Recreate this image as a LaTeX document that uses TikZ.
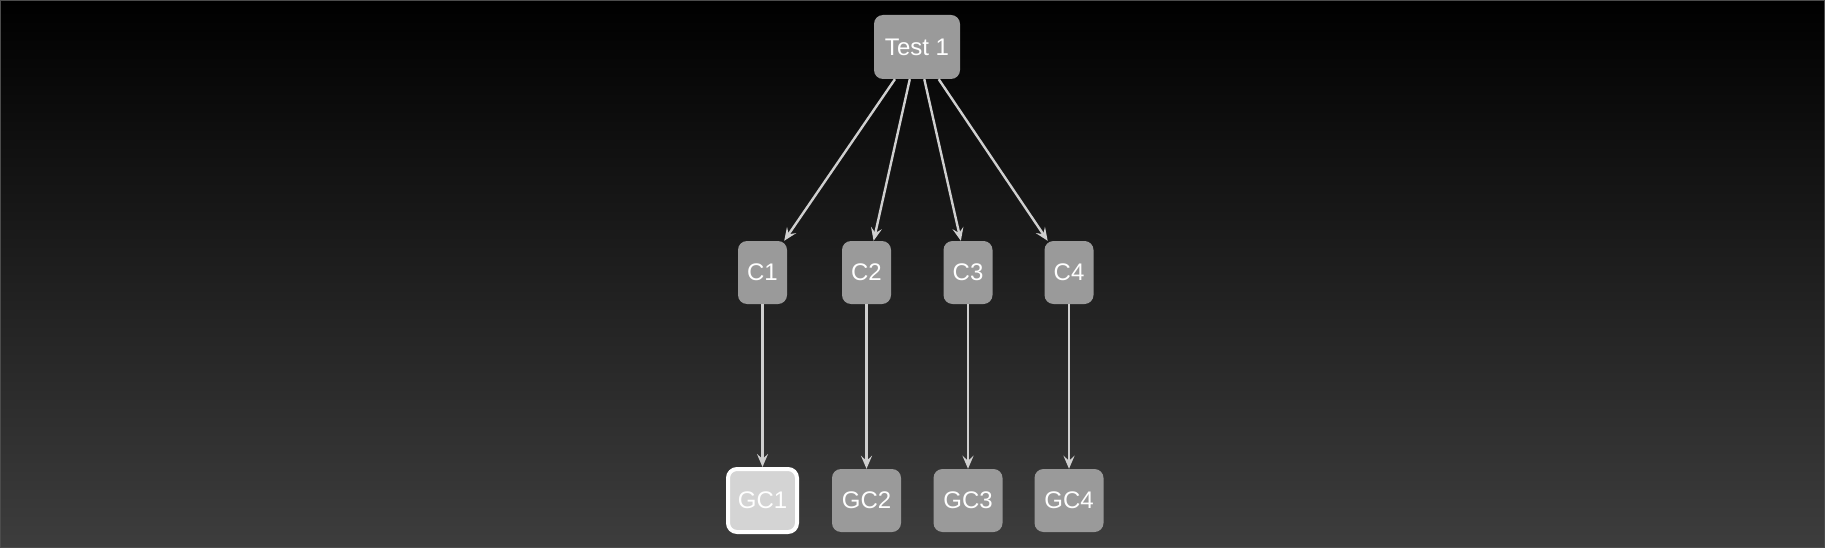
\documentclass[tikz,border=0pt]{standalone}
\usepackage{fontspec}
\setmainfont{Liberation Sans}
\usetikzlibrary{arrows.meta}
\definecolor{nodegray}{HTML}{9A9A9A}
\definecolor{hlgray}{HTML}{D4D4D4}
\definecolor{edgegray}{HTML}{CFCFCF}
\definecolor{bgbottom}{HTML}{3D3D3D}
\tikzset{
  box/.style={draw=none, fill=nodegray, rounded corners=9pt, text=white,
    font=\fontsize{24}{28}\selectfont, inner sep=0pt, minimum height=63pt},
  hlbox/.style={box, fill=hlgray, draw=white, line width=4pt},
  edge/.style={draw=edgegray, line width=2.4pt,
    -{Stealth[length=13pt,width=11pt,inset=5pt]}}
}
\begin{document}
\begin{tikzpicture}[x=1pt,y=-1pt]
\shade[top color=black, bottom color=bgbottom] (0,0) rectangle (1825,548);
\draw[color=black!70!white, line width=1pt] (0.5,0.5) rectangle (1824.5,547.5);
\useasboundingbox (0,0) rectangle (1825,548);
\node[box, minimum width=86pt, minimum height=64pt] (t) at (917,47) {Test 1};
\node[box, minimum width=49pt] (c1) at (762.5,272.5) {C1};
\node[box, minimum width=49pt] (c2) at (866.5,272.5) {C2};
\node[box, minimum width=49pt] (c3) at (968,272.5) {C3};
\node[box, minimum width=49pt] (c4) at (1069,272.5) {C4};
\node[hlbox, minimum width=69pt] (g1) at (762.5,500.5) {GC1};
\node[box, minimum width=69pt] (g2) at (866.5,500.5) {GC2};
\node[box, minimum width=69pt] (g3) at (968,500.5) {GC3};
\node[box, minimum width=69pt] (g4) at (1069,500.5) {GC4};
\draw[edge] (t) -- (c1);
\draw[edge] (t) -- (c2);
\draw[edge] (t) -- (c3);
\draw[edge] (t) -- (c4);
\draw[edge] (c1) -- (g1);
\draw[edge] (c2) -- (g2);
\draw[edge] (c3) -- (g3);
\draw[edge] (c4) -- (g4);
\end{tikzpicture}
\end{document}
